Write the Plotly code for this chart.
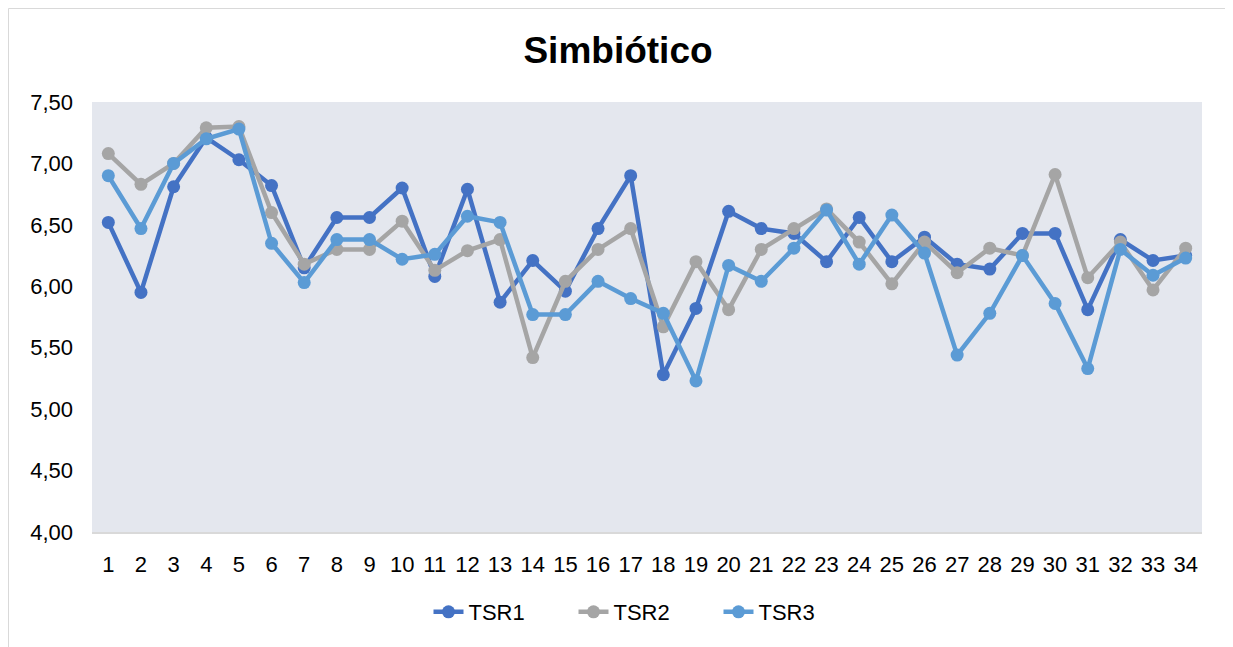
import plotly.graph_objects as go

categories = [str(i) for i in range(1, 35)]
tsr1 = [6.52, 5.95, 6.81, 7.21, 7.03, 6.82, 6.15, 6.56, 6.56, 6.80, 6.08, 6.79, 5.87, 6.21, 5.96, 6.47, 6.90,
        5.28, 5.82, 6.61, 6.47, 6.43, 6.20, 6.56, 6.20, 6.40, 6.18, 6.14, 6.43, 6.43, 5.81, 6.38, 6.21, 6.25]
tsr2 = [7.08, 6.83, 7.00, 7.29, 7.30, 6.60, 6.18, 6.30, 6.30, 6.53, 6.13, 6.29, 6.38, 5.42, 6.04, 6.30, 6.47,
        5.67, 6.20, 5.81, 6.30, 6.47, 6.63, 6.36, 6.02, 6.36, 6.11, 6.31, 6.25, 6.91, 6.07, 6.36, 5.97, 6.31]
tsr3 = [6.90, 6.47, 7.00, 7.20, 7.28, 6.35, 6.03, 6.38, 6.38, 6.22, 6.26, 6.57, 6.52, 5.77, 5.77, 6.04, 5.90,
        5.78, 5.23, 6.17, 6.04, 6.31, 6.62, 6.18, 6.58, 6.27, 5.44, 5.78, 6.25, 5.86, 5.33, 6.30, 6.09, 6.23]
series = [("TSR1", tsr1, "#4472C4"), ("TSR2", tsr2, "#A5A5A5"), ("TSR3", tsr3, "#5B9BD5")]
y_ticks = [4.0, 4.5, 5.0, 5.5, 6.0, 6.5, 7.0, 7.5]

fig = go.Figure()
for name, vals, color in series:
    fig.add_trace(go.Scatter(x=categories, y=vals, name=name, mode="lines+markers",
                             line=dict(color=color, width=4.5),
                             marker=dict(color=color, size=13)))

font = "Liberation Sans, Arial, sans-serif"
W, H = 1220, 640
L, R, T, B = 84, 26, 94, 116
pw, ph = W - L - R, H - T - B
fig.update_layout(
    width=W, height=H,
    margin=dict(l=L, r=R, t=T, b=B, autoexpand=False),
    paper_bgcolor="white", plot_bgcolor="#E4E7EE",
    separators=",.",
    font=dict(family=font, size=22, color="#000000"),
    title=dict(text="<b>Simbiótico</b>", x=0.5, xref="container", xanchor="center",
               y=1 - 42 / H, yanchor="middle", font=dict(family=font, size=37, color="#000")),
    xaxis=dict(type="category", range=[-0.5, 33.5], showgrid=False, zeroline=False,
               showline=True, linecolor="#D9D9D9", linewidth=1.5, ticks="",
               ticklabelstandoff=12, tickfont=dict(size=22)),
    yaxis=dict(range=[4.0, 7.5], tickvals=y_ticks, tickformat=".2f", showgrid=False,
               zeroline=False, showline=False, ticks="", ticklabelstandoff=18,
               tickfont=dict(size=22)),
    legend=dict(orientation="h", x=(646 - 92) / pw, xanchor="center", y=-80 / ph,
                yanchor="middle", font=dict(size=22), traceorder="normal",
                entrywidth=100, entrywidthmode="pixels"),
    showlegend=True,
    shapes=[dict(type="rect", xref="paper", yref="paper", x0=-(L - 0.5) / pw, x1=1 + (R - 1) / pw,
                 y0=-(B - 0.5) / ph, y1=1 + (T - 0.5) / ph, line=dict(color="#D9D9D9", width=1),
                 layer="below")],
)

fig.write_html("out.html")
